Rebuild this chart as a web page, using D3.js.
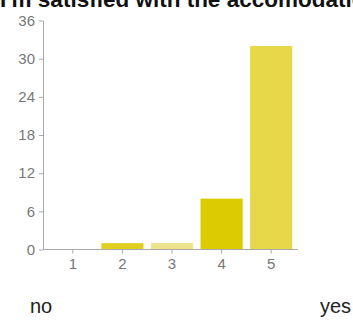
<!DOCTYPE html>
<html>
<head>
<meta charset="utf-8">
<script src="https://cdn.jsdelivr.net/npm/d3@7"></script>
<style>
  body { margin: 0; background: #fff; }
  svg { display: block; }
</style>
</head>
<body>
<div id="chart"></div>
<script>
const title = "I'm satisfied with the accomodation";
const categories = ["1", "2", "3", "4", "5"];
const counts = [0, 1, 1, 8, 32];
const barColors = ["#dccb00", "#e0cf20", "#ede38a", "#dccb00", "#e6d848"];
const yTicks = [0, 6, 12, 18, 24, 30, 36];
const lowLabel = "no", highLabel = "yes";

const width = 353, height = 320;
const margin = { top: 20.5, left: 43, right: 55, bottom: 70.5 };
const font = "Arial, 'Liberation Sans', sans-serif";

const svg = d3.select("#chart").append("svg")
    .attr("width", width)
    .attr("height", height);

const x = d3.scaleBand()
    .domain(categories)
    .range([48, 296])
    .paddingInner(0.15)
    .paddingOuter(0.075);

const y = d3.scaleLinear()
    .domain([0, 36])
    .range([height - margin.bottom, margin.top]);

// title is clipped by the top edge, as in the original screenshot
svg.append("text")
    .attr("x", 0)
    .attr("y", 7)
    .style("font-family", font)
    .style("font-size", "22.5px")
    .style("font-weight", "bold")
    .style("fill", "#111")
    .text(title);

svg.selectAll("rect.bar")
    .data(counts)
    .enter().append("rect")
    .attr("class", "bar")
    .attr("x", (d, i) => x(categories[i]))
    .attr("y", d => y(d))
    .attr("width", x.bandwidth())
    .attr("height", d => y(0) - y(d))
    .attr("fill", (d, i) => barColors[i]);

const yAxis = svg.append("g")
    .attr("transform", `translate(${margin.left},0)`)
    .call(d3.axisLeft(y).tickValues(yTicks).tickSize(4).tickSizeOuter(0));

const xAxis = svg.append("g")
    .attr("transform", `translate(0,${y(0)})`)
    .call(d3.axisBottom(x).tickSize(4).tickSizeOuter(0));
xAxis.select(".domain").attr("d", `M${margin.left},0H298`);

[yAxis, xAxis].forEach(g => {
    g.selectAll(".domain, line").attr("stroke", "#aaa");
    g.selectAll("text")
        .style("font-family", font)
        .style("font-size", "15px")
        .attr("fill", "#777");
});
yAxis.selectAll("text").attr("x", -8);
xAxis.selectAll("text").attr("y", 9);

svg.append("text")
    .attr("x", 30)
    .attr("y", 313)
    .style("font-family", font)
    .style("font-size", "20px")
    .style("fill", "#222")
    .text(lowLabel);

svg.append("text")
    .attr("x", 351)
    .attr("y", 313)
    .attr("text-anchor", "end")
    .style("font-family", font)
    .style("font-size", "20px")
    .style("fill", "#222")
    .text(highLabel);
</script>
</body>
</html>
